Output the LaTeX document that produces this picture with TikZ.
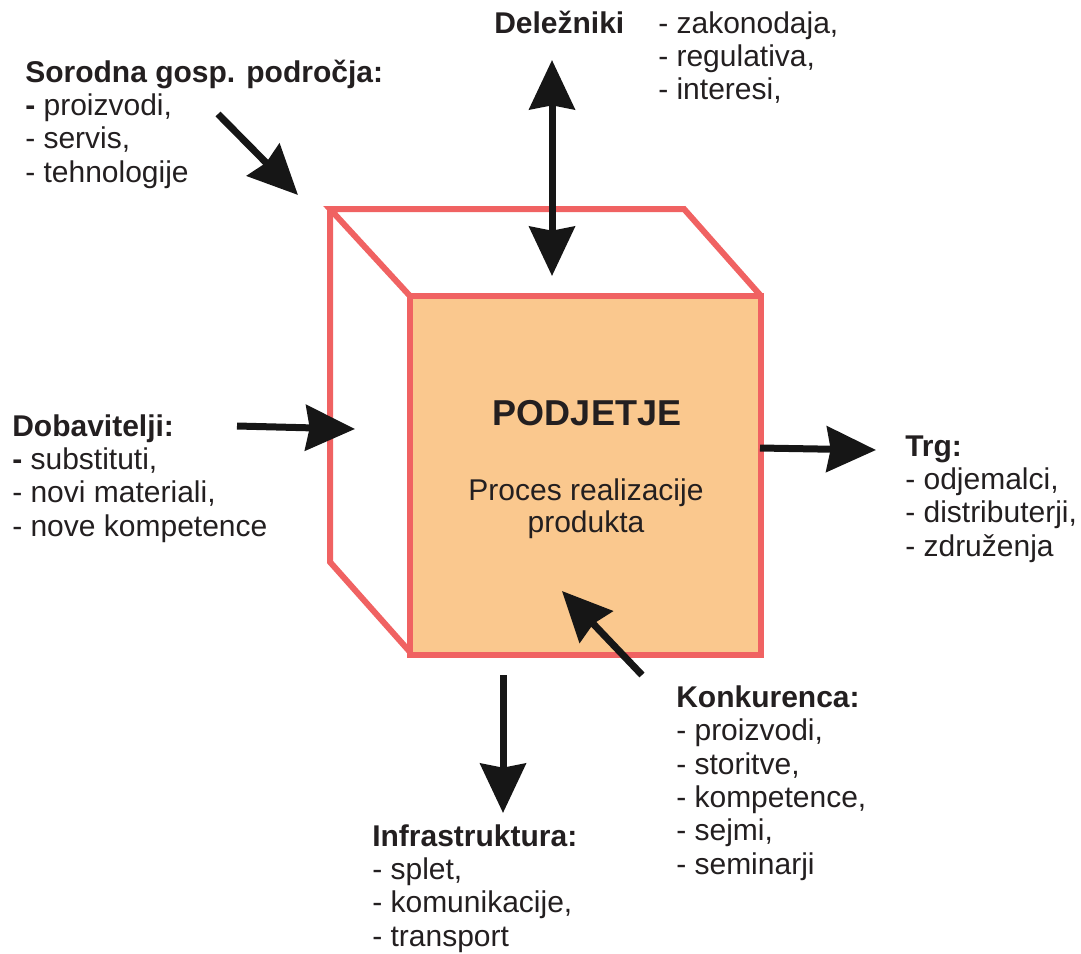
\documentclass[tikz,border=0pt]{standalone}
\usepackage{fontspec}
\setmainfont{Liberation Sans}
\usetikzlibrary{arrows.meta}
\definecolor{cubeRed}{RGB}{240,98,98}
\definecolor{cubeFill}{RGB}{250,200,142}
\definecolor{txtDark}{RGB}{35,31,32}
\definecolor{arrowDark}{RGB}{22,22,22}

\begin{document}
\begin{tikzpicture}[x=0.75pt,y=0.75pt,yscale=-1,xscale=1,
  bighead/.tip={Stealth[length=37pt,width=34pt,inset=3pt]},
  edge/.style={draw=cubeRed, line width=4.5pt, line join=miter},
  bigarrow/.style={draw=arrowDark, line width=5.25pt, -bighead},
  lbl/.style={anchor=base west, inner sep=0pt, align=left, text=txtDark, font=\fontsize{22.5}{25}\selectfont}]
\useasboundingbox (0,0) rectangle (1081,953);
%(text nodes sit on the baseline of their last line)

%Shape: Cube back edges
\draw[edge] (410,296) -- (330,209) -- (684,209) -- (761,296) ;
\draw[edge] (330,209) -- (330,562) -- (410,652) ;
%Shape: Cube front face
\draw[edge, fill=cubeFill] (410,296) rectangle (761,655) ;

%Coordinates for the arrows
\coordinate (sorodnaTail) at (218,114) ;
\coordinate (sorodnaTip) at (298,195) ;
\coordinate (delezTop) at (552,60) ;
\coordinate (delezBot) at (552,276) ;
\coordinate (dobavTail) at (237,426) ;
\coordinate (dobavTip) at (355,429) ;
\coordinate (trgTail) at (760,448) ;
\coordinate (trgTip) at (876,450) ;
\coordinate (infraTail) at (503,675) ;
\coordinate (infraTip) at (503,813) ;
\coordinate (konkTail) at (642,675) ;
\coordinate (konkTip) at (562,591) ;

%Straight Lines
\draw[bigarrow] (sorodnaTail) -- (sorodnaTip) ;
\draw[bigarrow, bighead-bighead] (delezTop) -- (delezBot) ;
\draw[bigarrow] (dobavTail) -- (dobavTip) ;
\draw[bigarrow] (trgTail) -- (trgTip) ;
\draw[bigarrow] (infraTail) -- (infraTip) ;
\draw[bigarrow] (konkTail) -- (konkTip) ;

% Text Node
\node[lbl] (sorodna) at (25,182) {\textbf{Sorodna gosp. področja:}\\\textbf{-} proizvodi,\\- servis,\\- tehnologije};
% Text Node
\node[lbl] (delez) at (494,33) {\textbf{Deležniki}};
% Text Node
\node[lbl] (delezList) at (658,99.7) {- zakonodaja,\\- regulativa,\\- interesi,};
% Text Node
\node[lbl] (dobav) at (12,536) {\textbf{Dobavitelji:}\\\textbf{-} substituti,\\- novi materiali,\\- nove kompetence};
% Text Node
\node[lbl] (trg) at (905,556) {\textbf{Trg:}\\- odjemalci,\\- distributerji,\\- združenja};
% Text Node
\node[lbl] (infra) at (372,946) {\textbf{Infrastruktura:}\\- splet,\\- komunikacije,\\- transport};
% Text Node
\node[lbl] (konk) at (676,874) {\textbf{Konkurenca:}\\- proizvodi,\\- storitve,\\- kompetence,\\- sejmi,\\- seminarji};
% Text Node
\node[anchor=base, inner sep=0pt, text=txtDark, font=\fontsize{27}{30}\selectfont\bfseries] (podjetje) at (587,425) {PODJETJE};
% Text Node
\node[anchor=base, inner sep=0pt, align=center, text=txtDark, font=\fontsize{22.5}{24}\selectfont] (proces) at (586,532) {Proces realizacije\\produkta};

\end{tikzpicture}
\end{document}
